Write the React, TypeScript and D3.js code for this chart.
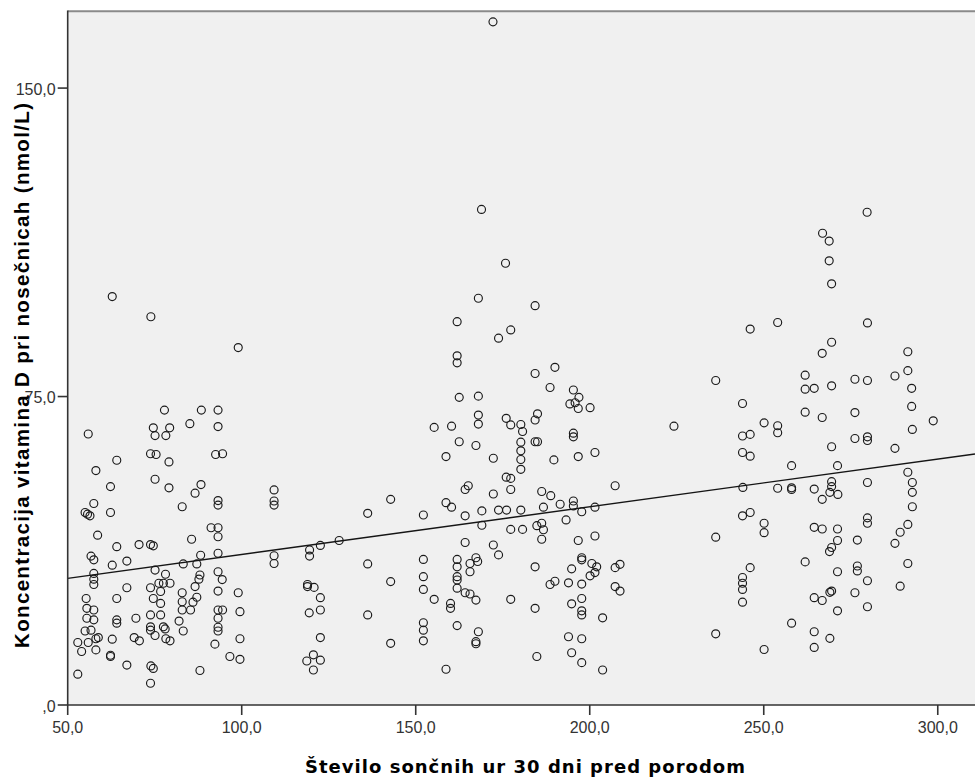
import { line, scaleLinear } from "d3";

// sunshine hours in the 30 days before birth, vitamin D concentration (nmol/L)
const lowPoints: [number, number][] = [
  [62.8, 99.3], [73.9, 94.4], [99.0, 86.9], [77.8, 71.7], [88.4, 71.7], [93.2, 71.7], [55.9, 65.9], [74.6, 67.4], [79.3, 67.4], [85.1, 68.4],
  [93.2, 67.7], [75.1, 65.5], [78.2, 65.5], [73.8, 61.1], [75.4, 60.9], [92.5, 60.9], [94.5, 61.1], [64.1, 59.5], [79.1, 59.1], [58.1, 57.0],
  [75.1, 54.9], [62.3, 53.1], [79.1, 52.8], [88.3, 53.6], [86.6, 51.5], [93.2, 49.7], [93.2, 48.6], [109.3, 52.3], [109.3, 49.6], [109.3, 48.6],
  [57.5, 49.0], [55.0, 46.8], [56.4, 46.0], [55.7, 46.4], [62.3, 46.8], [82.9, 48.2], [58.6, 41.3], [91.2, 43.1], [93.2, 43.1], [93.2, 40.9],
  [64.1, 38.5], [70.5, 39.0], [73.8, 39.0], [74.6, 38.7], [85.6, 40.3], [56.7, 36.2], [57.5, 35.3], [62.8, 34.0], [67.0, 35.0], [83.2, 34.3],
  [88.2, 36.4], [93.2, 36.9], [109.3, 36.3], [109.3, 34.4], [119.5, 37.7], [119.5, 36.2], [122.6, 38.8], [128.0, 40.0], [57.5, 32.0], [57.5, 30.6],
  [57.5, 29.3], [75.1, 32.8], [78.1, 31.8], [76.2, 29.6], [77.5, 29.6], [79.4, 29.6], [76.7, 27.6], [87.1, 34.3], [88.0, 31.6], [87.7, 30.6],
  [93.2, 32.4], [94.4, 30.5], [67.0, 28.5], [73.8, 28.5], [55.3, 25.9], [64.1, 25.9], [74.6, 25.9], [82.9, 27.3], [86.6, 28.8], [87.1, 26.2],
  [93.2, 27.7], [99.0, 27.3], [118.9, 29.3], [118.9, 28.8], [120.8, 28.6], [122.6, 26.1], [55.5, 23.5], [57.5, 23.1], [57.5, 20.7], [55.5, 21.1],
  [76.7, 24.7], [82.9, 25.1], [82.9, 23.1], [85.3, 23.1], [86.0, 25.0], [93.2, 23.1], [94.5, 23.1], [99.5, 22.7], [119.4, 22.4], [122.6, 23.1],
  [64.1, 20.7], [64.1, 19.9], [69.6, 21.1], [73.8, 21.9], [76.7, 21.9], [82.0, 20.4], [93.2, 21.1], [73.8, 19.0], [77.5, 19.0], [78.0, 18.5],
  [73.8, 18.2], [83.2, 18.0], [93.2, 18.9], [93.2, 18.0], [55.0, 18.0], [56.7, 18.2], [52.9, 15.2], [54.0, 13.0], [55.9, 15.2], [58.1, 16.1],
  [58.8, 16.4], [58.1, 13.4], [62.8, 16.0], [69.1, 16.4], [70.6, 15.6], [75.1, 16.9], [78.2, 16.1], [79.4, 15.6], [92.3, 14.8], [99.5, 16.1],
  [122.6, 16.4], [62.3, 11.8], [62.3, 12.1], [67.0, 9.7], [73.9, 9.5], [74.6, 8.9], [96.6, 11.8], [99.5, 11.1], [118.7, 10.7], [120.6, 12.2],
  [122.6, 10.9], [120.6, 8.5], [52.9, 7.5], [88.0, 8.4], [73.8, 5.3]
];

const midPoints: [number, number][] = [
  [168.0, 98.9], [184.3, 97.1], [161.9, 93.2], [177.3, 91.2], [173.8, 89.2], [161.9, 84.9], [161.9, 83.2], [184.3, 80.6], [190.0, 82.1], [188.6, 77.2],
  [195.3, 76.6], [196.9, 74.8], [194.3, 73.2], [195.8, 73.5], [196.7, 72.1], [200.1, 72.3], [162.5, 74.8], [168.0, 75.1], [168.0, 70.5], [168.0, 68.3],
  [155.3, 67.5], [160.3, 67.8], [176.0, 69.7], [177.3, 68.1], [180.2, 68.2], [180.7, 66.5], [185.0, 70.8], [184.3, 69.3], [195.3, 66.1], [195.3, 65.2],
  [184.3, 64.0], [185.0, 64.0], [180.2, 63.9], [180.2, 61.8], [180.2, 59.7], [180.2, 57.3], [162.5, 64.0], [167.3, 63.1], [158.7, 60.4], [172.3, 60.0],
  [189.7, 59.6], [196.7, 60.4], [201.5, 61.4], [176.0, 55.4], [177.3, 55.1], [177.3, 52.4], [165.1, 53.3], [164.2, 52.4], [172.3, 51.3], [186.2, 51.9],
  [188.8, 50.9], [191.5, 48.8], [195.3, 49.6], [195.3, 48.4], [207.3, 53.3], [142.8, 50.0], [136.2, 46.6], [152.2, 46.2], [158.7, 49.2], [160.3, 48.1],
  [164.2, 46.0], [169.0, 47.2], [173.8, 47.4], [176.1, 47.4], [180.2, 47.4], [186.7, 48.1], [197.7, 47.0], [201.5, 48.1], [169.0, 43.7], [177.3, 42.7],
  [180.7, 42.7], [184.8, 43.6], [186.2, 44.2], [186.7, 42.6], [186.2, 40.3], [193.2, 45.0], [196.7, 40.0], [201.5, 41.1], [164.2, 39.5], [172.3, 38.9],
  [173.8, 36.5], [136.2, 34.3], [152.2, 35.4], [161.9, 35.4], [161.9, 33.6], [165.6, 34.4], [167.3, 35.8], [167.8, 34.9], [165.6, 32.4], [161.9, 31.2],
  [161.9, 30.4], [161.9, 28.4], [164.2, 27.3], [165.6, 27.0], [167.3, 25.5], [184.3, 33.6], [197.7, 35.8], [197.7, 35.3], [194.8, 33.1], [200.6, 34.4],
  [202.0, 33.6], [201.5, 32.2], [200.1, 31.4], [207.3, 33.4], [208.7, 34.2], [142.8, 30.0], [152.2, 31.2], [152.2, 28.1], [155.3, 25.7], [160.0, 24.7],
  [160.0, 23.5], [177.3, 25.7], [188.6, 29.3], [190.0, 30.1], [193.9, 29.7], [197.7, 29.4], [207.3, 28.8], [208.7, 27.7], [136.2, 21.9], [152.2, 20.0],
  [152.2, 18.2], [152.2, 15.6], [161.9, 19.3], [168.0, 17.8], [167.3, 15.4], [167.3, 14.9], [184.3, 23.5], [194.8, 24.6], [197.7, 25.9], [197.7, 22.9],
  [197.7, 21.9], [203.7, 21.2], [142.8, 15.0], [193.9, 16.6], [197.7, 16.1], [184.8, 11.8], [194.8, 12.7], [197.7, 10.3], [203.7, 8.5], [158.7, 8.7],
  [172.2, 166.1], [168.9, 120.5], [175.8, 107.4]
];

const highPoints: [number, number][] = [
  [246.1, 91.4], [254.0, 93.0], [279.8, 92.9], [269.5, 88.2], [266.8, 85.5], [291.4, 85.9], [291.4, 81.3], [287.7, 80.0], [292.5, 77.0], [236.2, 78.9],
  [261.9, 80.2], [261.9, 76.8], [264.5, 77.0], [269.5, 77.6], [276.2, 79.2], [279.8, 78.9], [243.9, 73.3], [261.9, 71.2], [266.8, 69.9], [276.2, 71.1],
  [292.5, 72.6], [298.7, 69.1], [224.2, 67.8], [250.1, 68.6], [254.0, 67.9], [254.0, 66.2], [243.9, 65.4], [246.1, 65.8], [276.2, 64.8], [279.8, 65.2],
  [279.8, 64.3], [292.7, 67.0], [269.5, 62.8], [287.7, 62.4], [243.9, 61.4], [246.1, 60.5], [258.0, 58.2], [271.2, 58.2], [291.4, 56.6], [292.7, 54.1],
  [292.7, 51.7], [292.7, 48.2], [244.0, 52.9], [254.0, 52.7], [258.0, 52.8], [258.0, 52.4], [264.5, 52.5], [269.5, 54.3], [269.5, 53.1], [269.0, 51.7],
  [271.3, 51.2], [266.8, 50.0], [279.8, 54.1], [243.9, 46.0], [246.1, 46.8], [250.1, 44.2], [250.1, 41.9], [264.5, 43.2], [266.8, 42.8], [271.2, 42.8],
  [271.2, 40.0], [269.5, 38.3], [268.9, 37.3], [276.9, 40.1], [279.8, 45.5], [279.8, 44.2], [291.4, 43.9], [289.2, 42.0], [287.7, 39.3], [236.2, 40.8],
  [246.1, 33.4], [243.9, 31.0], [243.9, 29.6], [243.9, 28.1], [243.9, 25.0], [261.9, 34.8], [271.2, 32.4], [276.9, 33.8], [276.9, 32.6], [279.8, 30.2],
  [291.4, 34.4], [289.2, 28.9], [264.5, 26.1], [266.8, 25.4], [269.0, 27.4], [269.5, 27.7], [276.2, 27.3], [271.2, 22.9], [279.8, 23.9], [258.0, 19.9],
  [236.2, 17.3], [264.5, 17.8], [269.0, 16.2], [264.5, 14.0], [250.1, 13.5],
  [279.7, 119.8], [266.9, 114.7], [268.8, 112.8], [268.8, 108.0], [269.5, 102.4]
];

const xTicks = [50, 100, 150, 200, 250, 300];
const yTicks = [0, 75, 150];
const fitLine = { intercept: 25.0, slope: 0.116 };
const xTitle = "Število sončnih ur 30 dni pred porodom";
const yTitle = "Koncentracija vitamina D pri nosečnicah (nmol/L)";

function formatTick(value: number) {
  if (value === 0) return ",0";
  return value.toFixed(1).replace(".", ",");
}

export default function App() {
  const width = 975;
  const height = 778;
  const plot = { left: 67.7, top: 12, right: 975, bottom: 705 };

  const xScale = scaleLinear().domain([50, 310.7]).range([plot.left, plot.right]);
  const yScale = scaleLinear().domain([0, 168.5]).range([plot.bottom, plot.top]);

  const allPoints = [...lowPoints, ...midPoints, ...highPoints];
  const fitPath = line<number>()
    .x((d) => xScale(d))
    .y((d) => yScale(fitLine.intercept + fitLine.slope * d))(xScale.domain());

  const tickFont = "'Liberation Sans', Arial, sans-serif";

  return (
    <svg
      width={width}
      height={height}
      viewBox={`0 0 ${width} ${height}`}
      style={{ position: "absolute", left: 0, top: 0, background: "#fff" }}
    >
      <defs>
        <clipPath id="plot-clip">
          <rect x={plot.left} y={plot.top} width={plot.right - plot.left + 20} height={plot.bottom - plot.top} />
        </clipPath>
      </defs>

      <rect x={plot.left} y={plot.top} width={plot.right - plot.left + 20} height={plot.bottom - plot.top} fill="#f0f0f0" />
      <line x1={plot.left} x2={width + 5} y1={plot.top - 0.7} y2={plot.top - 0.7} stroke="#8a8a8a" strokeWidth="2" />

      <g clipPath="url(#plot-clip)">
        {allPoints.map(([hours, conc], i) => (
          <circle
            key={i}
            cx={xScale(hours)}
            cy={yScale(conc)}
            r="4"
            fill="none"
            stroke="#1a1a1a"
            strokeWidth="1.15"
          />
        ))}
        <path d={fitPath ?? ""} fill="none" stroke="#151515" strokeWidth="1.4" />
      </g>

      <line x1={plot.left} x2={plot.left} y1={plot.top - 1.5} y2={plot.bottom} stroke="#333" strokeWidth="1.6" />
      <line x1={plot.left} x2={width + 5} y1={plot.bottom} y2={plot.bottom} stroke="#333" strokeWidth="1.6" />

      {yTicks.map((tick) => (
        <g key={tick}>
          <line x1={plot.left - 10} x2={plot.left} y1={yScale(tick)} y2={yScale(tick)} stroke="#333" strokeWidth="1.6" />
          <text
            x={plot.left - 12}
            y={yScale(tick) + 6.5}
            textAnchor="end"
            fontFamily={tickFont}
            fontSize="16"
            fill="#333"
          >
            {formatTick(tick)}
          </text>
        </g>
      ))}

      {xTicks.map((tick) => (
        <g key={tick}>
          <line x1={xScale(tick)} x2={xScale(tick)} y1={plot.bottom} y2={plot.bottom + 10} stroke="#333" strokeWidth="1.6" />
          <text
            x={xScale(tick)}
            y={733}
            textAnchor="middle"
            fontFamily={tickFont}
            fontSize="16"
            fill="#333"
          >
            {formatTick(tick)}
          </text>
        </g>
      ))}

      <text
        transform="translate(28.5, 375.5) rotate(-90)"
        textAnchor="middle"
        fontFamily={tickFont}
        fontWeight="bold"
        fontSize="20.5"
        fill="#000"
        textLength={545}
        lengthAdjust="spacing"
      >
        {yTitle}
      </text>

      <text
        x={525}
        y={773}
        textAnchor="middle"
        fontFamily="'DejaVu Sans', sans-serif"
        fontWeight="bold"
        fontSize="18"
        fill="#000"
        textLength={440}
        lengthAdjust="spacing"
      >
        {xTitle}
      </text>
    </svg>
  );
}
